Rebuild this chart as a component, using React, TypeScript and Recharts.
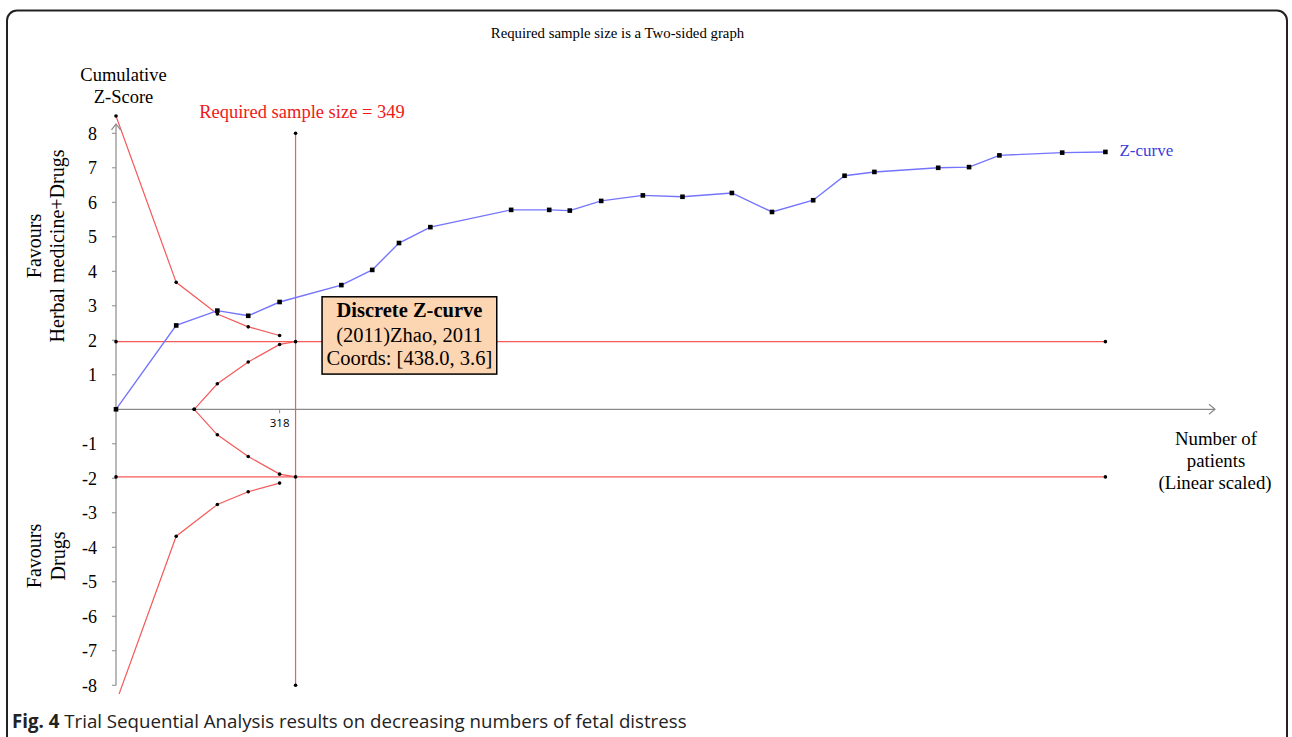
import React from 'react'
import { LineChart, Line, XAxis, YAxis, ReferenceLine, ReferenceDot } from 'recharts'

// cumulative Z-curve (number of patients, z-score)
const zCurveN = [0, 117, 197, 257, 318, 438, 498, 550, 611, 768, 842, 882, 943, 1024, 1101, 1197, 1275, 1355, 1416, 1474, 1598, 1658, 1717, 1839, 1923]
const zCurveZ = [0, 2.43, 2.86, 2.71, 3.11, 3.6, 4.04, 4.82, 5.28, 5.78, 5.78, 5.76, 6.04, 6.2, 6.16, 6.27, 5.72, 6.06, 6.77, 6.88, 7.0, 7.02, 7.36, 7.44, 7.46]

// monitoring (alpha-spending) boundary, mirrored for the lower side
const alphaN = [0, 117, 197, 257, 318]
const alphaZ = [8.5, 3.68, 2.76, 2.39, 2.14]

// futility boundary (inner wedge), mirrored for the lower side
const futilityN = [152, 197, 257, 318, 349]
const futilityZ = [0, 0.74, 1.37, 1.88, 1.96]

const conventionalN = [0, 1923]
const conventionalZ = 1.96
const requiredSize = 349
const risZ = [-8, 8]
const markedN = 318

const yTicks = [-8, -7, -6, -5, -4, -3, -2, -1, 1, 2, 3, 4, 5, 6, 7, 8]
const xMax = 2136
const yAxisTop = 8.27

const tooltipIndex = 5
const tooltipLines = ['Discrete Z-curve', '(2011)Zhao, 2011', 'Coords: [438.0, 3.6]']

const zCurve = zCurveN.map((n, i) => ({ n, z: zCurveZ[i] }))
const upperAlpha = alphaN.map((n, i) => ({ n, z: alphaZ[i] }))
const lowerAlpha = alphaN.map((n, i) => ({ n, z: -alphaZ[i] }))
const upperFutility = futilityN.map((n, i) => ({ n, z: futilityZ[i] }))
const lowerFutility = futilityN.map((n, i) => ({ n, z: -futilityZ[i] }))
const upperConv = conventionalN.map((n) => ({ n, z: conventionalZ }))
const lowerConv = conventionalN.map((n) => ({ n, z: -conventionalZ }))
const risLine = risZ.map((z) => ({ n: requiredSize, z }))

const RED = '#f45a5a'
const BLUE = '#7474ff'
const AXIS = '#8a8a8a'
const SERIF = '"Liberation Serif", "Times New Roman", serif'

const roundDot = (prefix: string) => (p: any) => (
  <circle key={`${prefix}-${p.index}`} cx={p.cx} cy={p.cy} r={1.8} fill="#000" />
)

const squareDot = (p: any) => (
  <rect key={`zc-${p.index}`} x={p.cx - 2.3} y={p.cy - 2.3} width={4.6} height={4.6} fill="#000" />
)

const arrowUp = (p: any) => (
  <path d={`M${p.cx - 4.5},${p.cy + 6} L${p.cx},${p.cy} L${p.cx + 4.5},${p.cy + 6}`} stroke={AXIS} strokeWidth={1.2} fill="none" />
)

const arrowRight = (p: any) => (
  <path d={`M${p.cx - 6},${p.cy - 5} L${p.cx},${p.cy} L${p.cx - 6},${p.cy + 5}`} stroke={AXIS} strokeWidth={1.2} fill="none" />
)

const markTick = (p: any) => (
  <g>
    <line x1={p.cx} y1={p.cy} x2={p.cx} y2={p.cy + 4} stroke={AXIS} />
    <text x={p.cx} y={p.cy + 18} textAnchor="middle" fontSize={11.5} fontFamily='"Open Sans", sans-serif' fill="#000">
      {markedN}
    </text>
  </g>
)

const zLabel = (p: any) => (
  <text x={p.cx + 14} y={p.cy + 4.5} fontSize={17} fontFamily={SERIF} fill="#3d3ddc">
    Z-curve
  </text>
)

const tooltipBox = (p: any) => {
  const x = p.cx - 19.3
  const y = p.cy + 11.7
  const w = 174.7
  const mid = x + w / 2
  return (
    <g>
      <rect x={x} y={y} width={w} height={77.3} fill="#fcd5b2" stroke="#000" strokeWidth={1.5} />
      <text x={mid} y={p.cy + 32} textAnchor="middle" fontSize={20.5} fontWeight="bold" fontFamily={SERIF} fill="#000">
        {tooltipLines[0]}
      </text>
      <text x={mid} y={p.cy + 57.4} textAnchor="middle" fontSize={20.5} fontFamily={SERIF} fill="#000">
        {tooltipLines[1]}
      </text>
      <text x={mid} y={p.cy + 80.4} textAnchor="middle" fontSize={20.5} fontFamily={SERIF} fill="#000">
        {tooltipLines[2]}
      </text>
    </g>
  )
}

const redLine = {
  type: 'linear' as const,
  dataKey: 'z',
  stroke: RED,
  strokeWidth: 1.2,
  isAnimationActive: false,
  activeDot: false,
}

export default function App() {
  return (
    <div style={{ position: 'absolute', left: 0, top: 0, width: 1292, height: 737, overflow: 'hidden', background: '#fff' }}>
      <LineChart width={1292} height={737} margin={{ top: 109.15, right: 77, bottom: 43.1, left: 0 }}>
        <XAxis dataKey="n" type="number" domain={[0, xMax]} hide />
        <YAxis
          type="number"
          domain={[-8.25, 8.7]}
          allowDataOverflow
          ticks={yTicks}
          interval={0}
          width={116}
          axisLine={false}
          tickLine={{ stroke: AXIS }}
          tickSize={4}
          tickMargin={15}
          tick={{ fill: '#000', fontSize: 18, fontFamily: SERIF }}
        />
        <ReferenceLine y={0} stroke={AXIS} strokeWidth={1.2} />
        <ReferenceLine segment={[{ x: 0, y: -8 }, { x: 0, y: yAxisTop }]} stroke={AXIS} strokeWidth={1.2} />
        <ReferenceDot x={0} y={yAxisTop} shape={arrowUp} />
        <ReferenceDot x={xMax} y={0} shape={arrowRight} />
        <ReferenceDot x={markedN} y={0} shape={markTick} />

        <Line {...redLine} data={upperConv} dot={roundDot('uc')} />
        <Line {...redLine} data={lowerConv} dot={roundDot('lc')} />
        <Line {...redLine} data={risLine} dot={roundDot('ris')} />
        <Line {...redLine} data={upperAlpha} dot={roundDot('ua')} />
        <Line {...redLine} data={lowerAlpha} dot={roundDot('la')} />
        <Line {...redLine} data={upperFutility} dot={roundDot('uf')} />
        <Line {...redLine} data={lowerFutility} dot={roundDot('lf')} />
        <Line type="linear" data={zCurve} dataKey="z" stroke={BLUE} strokeWidth={1.4} dot={squareDot} activeDot={false} isAnimationActive={false} />

        <ReferenceDot x={zCurveN[zCurveN.length - 1]} y={zCurveZ[zCurveZ.length - 1]} shape={zLabel} />
        <ReferenceDot x={zCurveN[tooltipIndex]} y={zCurveZ[tooltipIndex]} shape={tooltipBox} zIndex={2500} />
      </LineChart>

      <svg width={1292} height={737} style={{ position: 'absolute', left: 0, top: 0, pointerEvents: 'none' }}>
        <rect x={7} y={10.5} width={1280} height={780} rx={10} fill="none" stroke="#222" strokeWidth={2} />
        <text x={617.5} y={38} textAnchor="middle" fontSize={14.8} fontFamily={SERIF} fill="#000">
          Required sample size is a Two-sided graph
        </text>
        <text x={123.5} y={80.7} textAnchor="middle" fontSize={18.5} fontFamily={SERIF} fill="#000">Cumulative</text>
        <text x={123.5} y={102.7} textAnchor="middle" fontSize={18.5} fontFamily={SERIF} fill="#000">Z-Score</text>
        <text x={302} y={118.3} textAnchor="middle" fontSize={18.5} fontFamily={SERIF} fill="#f01818">
          Required sample size = {requiredSize}
        </text>
        <text transform="translate(40.5,246) rotate(-90)" textAnchor="middle" fontSize={20} fontFamily={SERIF} fill="#000">Favours</text>
        <text transform="translate(64,246) rotate(-90)" textAnchor="middle" fontSize={20} fontFamily={SERIF} fill="#000">Herbal medicine+Drugs</text>
        <text transform="translate(40.5,556) rotate(-90)" textAnchor="middle" fontSize={20} fontFamily={SERIF} fill="#000">Favours</text>
        <text transform="translate(65,556) rotate(-90)" textAnchor="middle" fontSize={20} fontFamily={SERIF} fill="#000">Drugs</text>
        <text x={1216} y={445} textAnchor="middle" fontSize={18.8} fontFamily={SERIF} fill="#000">Number of</text>
        <text x={1216} y={467} textAnchor="middle" fontSize={18.8} fontFamily={SERIF} fill="#000">patients</text>
        <text x={1215} y={489.3} textAnchor="middle" fontSize={18.8} fontFamily={SERIF} fill="#000">(Linear scaled)</text>
        <text x={12} y={728} fontSize={18.7} fontFamily='"Open Sans", sans-serif' fill="#222">
          <tspan fontWeight="bold">Fig. 4</tspan> Trial Sequential Analysis results on decreasing numbers of fetal distress
        </text>
      </svg>
    </div>
  )
}
